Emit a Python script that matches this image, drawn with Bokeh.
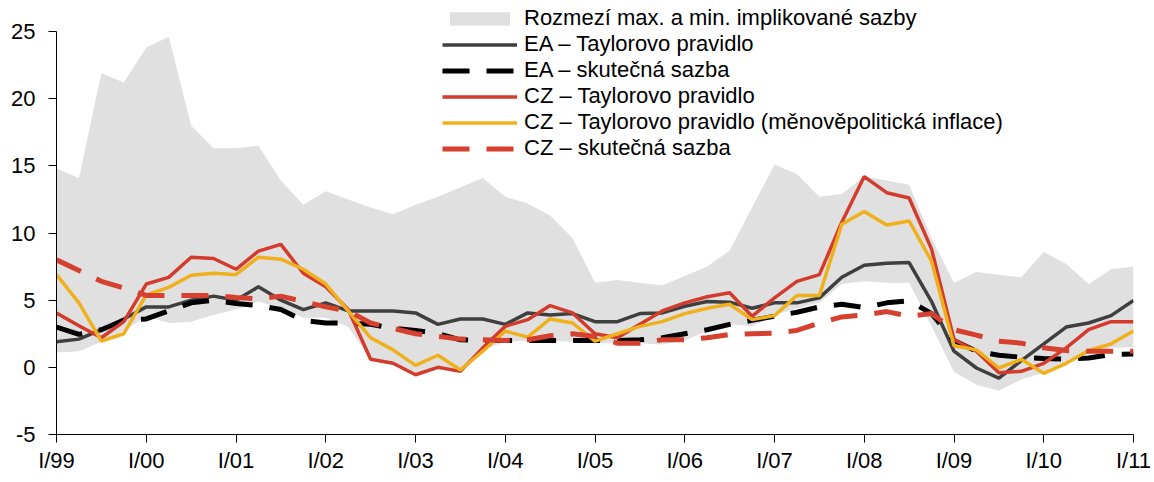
from bokeh.plotting import figure
from bokeh.models import Range1d, Legend, LegendItem, FixedTicker
from bokeh.embed import file_html
from bokeh.resources import INLINE

# Quarters I/99 ... I/11 (index 0..48)
quarter_index = list(range(49))
tick_positions = [0, 4, 8, 12, 16, 20, 24, 28, 32, 36, 40, 44, 48]
tick_labels = ["I/99", "I/00", "I/01", "I/02", "I/03", "I/04", "I/05",
               "I/06", "I/07", "I/08", "I/09", "I/10", "I/11"]
y_ticks = [-5, 0, 5, 10, 15, 20, 25]

band_max = [14.8, 14.1, 21.9, 21.2, 23.8, 24.6, 18.0, 16.3, 16.3, 16.5,
            13.9, 12.1, 13.1, 12.5, 11.9, 11.4, 12.1, 12.7, 13.4, 14.1,
            12.7, 12.2, 11.3, 9.6, 6.3, 6.5, 6.3, 6.1, 6.8, 7.5,
            8.7, 11.9, 15.1, 14.4, 12.7, 12.9, 14.2, 13.9, 13.6, 9.6,
            6.3, 7.1, 6.9, 6.7, 8.6, 7.7, 6.2, 7.3, 7.5]
band_min = [1.1, 1.2, 1.9, 2.7, 3.8, 3.3, 3.4, 3.9, 4.3, 4.9,
            4.4, 3.7, 3.7, 3.0, 0.6, 0.3, -0.55, 0.0, -0.3, 1.3,
            1.9, 2.0, 2.0, 1.9, 1.8, 1.8, 1.8, 1.7, 2.0, 2.7,
            3.2, 3.05, 3.9, 4.4, 4.8, 6.2, 6.4, 6.3, 6.3, 3.05,
            -0.35, -1.3, -1.75, -0.9, -0.4, 0.2, 1.05, 1.45, 1.5]
ea_taylor = [1.9, 2.1, 2.8, 3.6, 4.5, 4.5, 5.0, 5.3, 5.0, 6.0,
             5.0, 4.3, 4.8, 4.2, 4.2, 4.2, 4.05, 3.2, 3.6, 3.6,
             3.2, 4.05, 3.9, 4.0, 3.4, 3.4, 4.0, 4.05, 4.55, 4.9,
             4.85, 4.4, 4.8, 4.8, 5.17, 6.7, 7.6, 7.75, 7.8, 4.9,
             1.2, -0.05, -0.8, 0.5, 1.74, 3.0, 3.3, 3.85, 4.98]
ea_rate = [3.0, 2.45, 2.8, 3.5, 3.6, 4.2, 4.8, 5.0, 4.75, 4.6,
           4.3, 3.5, 3.3, 3.3, 3.2, 2.9, 2.75, 2.5, 2.05, 2.0,
           2.0, 2.0, 2.0, 2.0, 2.0, 2.0, 2.05, 2.2, 2.5, 2.8,
           3.2, 3.5, 3.8, 4.1, 4.5, 4.7, 4.45, 4.8, 4.95, 4.0,
           2.0, 1.2, 0.9, 0.75, 0.65, 0.6, 0.7, 0.95, 1.0]
cz_taylor = [4.05, 3.1, 2.2, 3.4, 6.2, 6.7, 8.2, 8.1, 7.3, 8.65,
             9.15, 7.0, 6.0, 4.3, 0.6, 0.3, -0.55, 0.0, -0.3, 1.45,
             3.05, 3.55, 4.6, 4.05, 2.5, 2.2, 3.2, 4.2, 4.8, 5.25,
             5.55, 3.8, 5.17, 6.4, 6.9, 10.8, 14.2, 13.0, 12.6, 8.8,
             2.07, 1.2, -0.4, -0.3, 0.3, 1.45, 2.8, 3.4, 3.4]
cz_taylor_mp = [6.9, 4.8, 1.95, 2.5, 5.4, 5.95, 6.85, 7.0, 6.9, 8.2,
                8.05, 7.3, 6.2, 4.2, 2.2, 1.3, 0.15, 0.9, -0.2, 1.2,
                2.7, 2.25, 3.6, 3.3, 1.95, 2.5, 3.05, 3.4, 4.0, 4.4,
                4.7, 3.55, 3.85, 5.35, 5.35, 10.65, 11.6, 10.6, 10.9, 7.9,
                1.6, 1.3, -0.05, 0.6, -0.45, 0.3, 1.25, 1.75, 2.7]
cz_rate = [8.0, 7.2, 6.4, 5.9, 5.35, 5.35, 5.35, 5.35, 5.2, 5.1,
           5.3, 4.9, 4.5, 4.2, 3.3, 2.9, 2.5, 2.3, 2.1, 2.05,
           2.0, 2.05, 2.35, 2.5, 2.3, 1.8, 1.8, 2.05, 2.05, 2.2,
           2.45, 2.5, 2.55, 2.75, 3.3, 3.75, 3.9, 4.15, 3.8, 4.0,
           2.8, 2.4, 1.95, 1.8, 1.45, 1.25, 1.2, 1.2, 1.2]

labels = ["Rozmezí max. a min. implikované sazby",
          "EA – Taylorovo pravidlo",
          "EA – skutečná sazba",
          "CZ – Taylorovo pravidlo",
          "CZ – Taylorovo pravidlo (měnověpolitická inflace)",
          "CZ – skutečná sazba"]

FONT = "Liberation Sans"

# frame extends a little above 25 so the legend fits; axis is bounded to -5..25
p = figure(frame_width=1077, frame_height=430, output_backend="svg",
           toolbar_location=None, x_range=Range1d(0, 48), y_range=Range1d(-5, 27.01),
           min_border_left=56, min_border_right=21, min_border_top=4, min_border_bottom=44)
p.outline_line_color = None
p.xgrid.visible = False
p.ygrid.visible = False
p.background_fill_color = "white"
p.border_fill_color = "white"

band = p.varea(x=quarter_index, y1=band_min, y2=band_max, fill_color="#DFE0DF")
r1 = p.line(quarter_index, ea_taylor, line_color="#3F3F3F", line_width=3.5)
r2 = p.line(quarter_index, ea_rate, line_color="#000000", line_width=5, line_dash="27 17")
r3 = p.line(quarter_index, cz_taylor, line_color="#D33C2C", line_width=3.5)
r4 = p.line(quarter_index, cz_taylor_mp, line_color="#F0B01C", line_width=3.5)
r5 = p.line(quarter_index, cz_rate, line_color="#D6402E", line_width=5, line_dash="27 17")

legend = Legend(items=[LegendItem(label=l, renderers=[r]) for l, r in
                       zip(labels, [band, r1, r2, r3, r4, r5])],
                location=(386, 273), orientation="vertical",
                border_line_alpha=0, background_fill_alpha=0,
                padding=0, margin=0, spacing=-1,
                glyph_width=75, glyph_height=17, label_height=24,
                label_standoff=7, label_text_font=FONT,
                label_text_font_size="22px",
                label_text_color="black")
p.add_layout(legend, "center")

xa = p.xaxis[0]
xa.ticker = FixedTicker(ticks=tick_positions)
xa.major_label_overrides = {t: l for t, l in zip(tick_positions, tick_labels)}
xa.minor_tick_line_color = None
xa.major_tick_in = 0
xa.major_tick_out = 8
xa.major_label_standoff = 5
xa.axis_line_color = "black"
xa.major_tick_line_color = "black"
xa.major_label_text_font = FONT
xa.major_label_text_font_size = "22px"
xa.major_label_text_color = "black"

ya = p.yaxis[0]
ya.ticker = FixedTicker(ticks=y_ticks)
ya.bounds = (-5, 25)
ya.major_label_overrides = {-5: "-5"}
ya.minor_tick_line_color = None
ya.major_tick_in = 0
ya.major_tick_out = 8
ya.major_label_standoff = 13
ya.axis_line_color = "black"
ya.major_tick_line_color = "black"
ya.major_label_text_font = FONT
ya.major_label_text_font_size = "22px"
ya.major_label_text_color = "black"

open("out.html", "w").write(file_html(p, INLINE))
